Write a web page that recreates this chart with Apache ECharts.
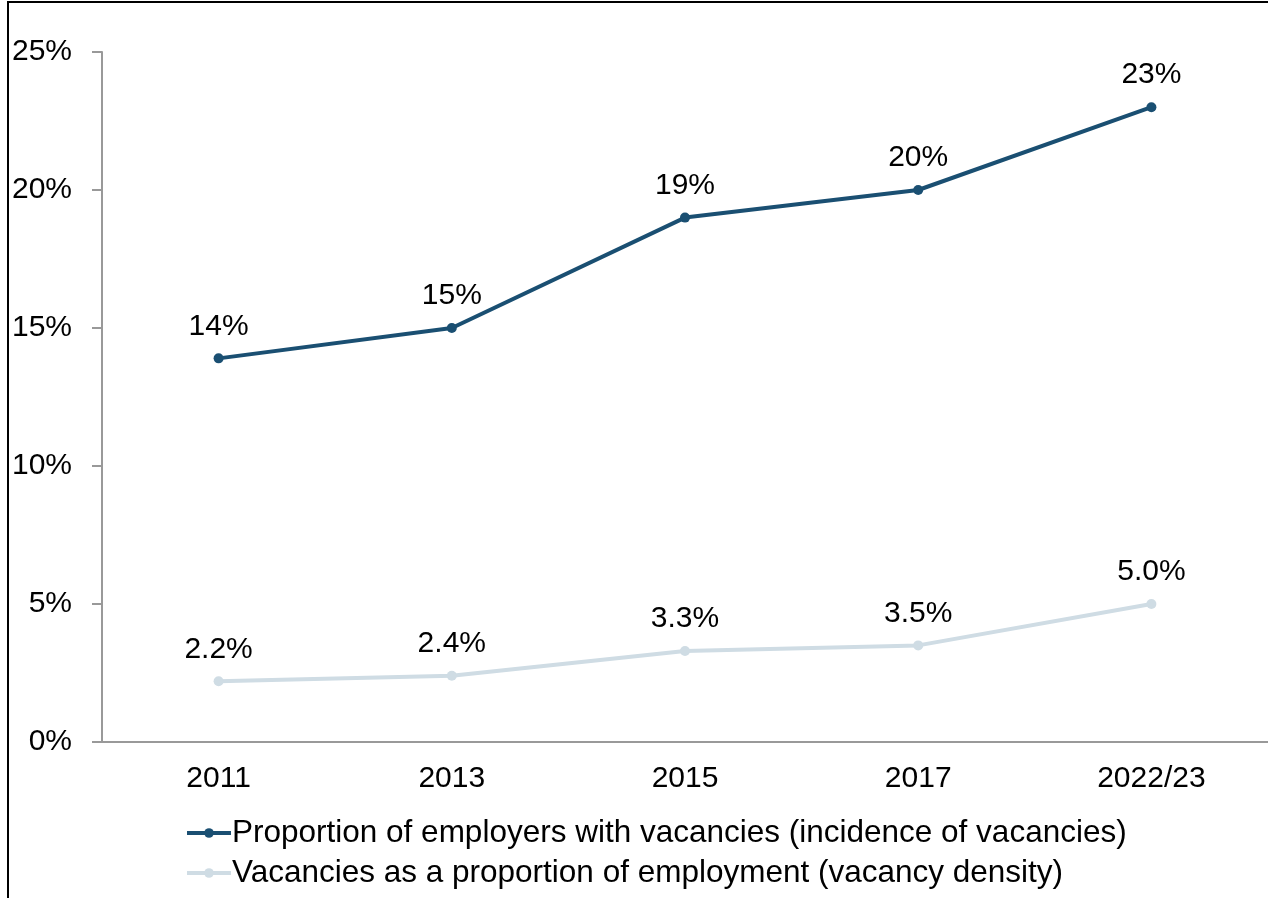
<!DOCTYPE html>
<html>
<head>
    <meta charset="utf-8">
    <title>Vacancies</title>
    <script src="https://cdn.jsdelivr.net/npm/echarts@6/dist/echarts.min.js"></script>
    <style>
        body { margin: 0; background: #fff; }
        #main { width: 1268px; height: 898px; }
    </style>
</head>
<body>
<div id="main"></div>
<script type="text/javascript">
    var years = ['2011', '2013', '2015', '2017', '2022/23'];
    var incidence = [13.9, 15.0, 19.0, 20.0, 23.0];
    var density = [2.2, 2.4, 3.3, 3.5, 5.0];
    var yTicks = [0, 5, 10, 15, 20, 25];

    var font = '"Liberation Sans", Arial, sans-serif';
    var darkBlue = '#1a4f72';
    var lightBlue = '#cfdce4';

    var myChart = echarts.init(document.getElementById('main'));
    myChart.setOption({
        animation: false,
        textStyle: { fontFamily: font },
        graphic: [{
            // outer chart frame (only top and left edges are visible)
            type: 'polyline',
            shape: { points: [[8, 898], [8, 2], [1268, 2]] },
            style: { stroke: '#000', lineWidth: 2, fill: null }
        }],
        grid: { left: 102, right: 0, top: 52, bottom: 156 },
        legend: {
            orient: 'vertical',
            left: 180,
            top: 812,
            itemGap: 8,
            itemWidth: 44,
            itemHeight: 12,
            lineStyle: { width: 4 },
            textStyle: { fontSize: 31.5, color: '#000', fontFamily: font, padding: [0, 0, 0, -4] },
            data: [
                { name: 'Proportion of employers with vacancies (incidence of vacancies)' },
                { name: 'Vacancies as a proportion of employment (vacancy density)' }
            ]
        },
        xAxis: {
            type: 'category',
            data: years,
            boundaryGap: true,
            axisLine: { lineStyle: { color: '#999', width: 2 } },
            axisTick: { show: false },
            axisLabel: { fontSize: 30, color: '#000', margin: 22, fontFamily: font }
        },
        yAxis: {
            type: 'value',
            min: yTicks[0],
            max: yTicks[yTicks.length - 1],
            interval: 5,
            splitLine: { show: false },
            axisLine: { show: true, lineStyle: { color: '#999', width: 2 } },
            axisTick: { show: true, length: 10, lineStyle: { color: '#999', width: 2 } },
            axisLabel: {
                fontSize: 30, color: '#000', margin: 30, fontFamily: font,
                formatter: function (v) { return v + '%'; }
            }
        },
        series: [{
            name: 'Proportion of employers with vacancies (incidence of vacancies)',
            type: 'line',
            data: incidence,
            color: darkBlue,
            symbol: 'circle',
            symbolSize: 10,
            lineStyle: { width: 4, color: darkBlue },
            itemStyle: { color: darkBlue },
            label: {
                show: true, position: 'top', distance: 12,
                fontSize: 30, color: '#000', fontFamily: font,
                formatter: function (p) { return Math.round(p.value) + '%'; }
            }
        }, {
            name: 'Vacancies as a proportion of employment (vacancy density)',
            type: 'line',
            data: density,
            color: lightBlue,
            symbol: 'circle',
            symbolSize: 10,
            lineStyle: { width: 4, color: lightBlue },
            itemStyle: { color: lightBlue },
            label: {
                show: true, position: 'top', distance: 12,
                fontSize: 30, color: '#000', fontFamily: font,
                formatter: function (p) { return p.value.toFixed(1) + '%'; }
            }
        }]
    });
</script>
</body>
</html>
